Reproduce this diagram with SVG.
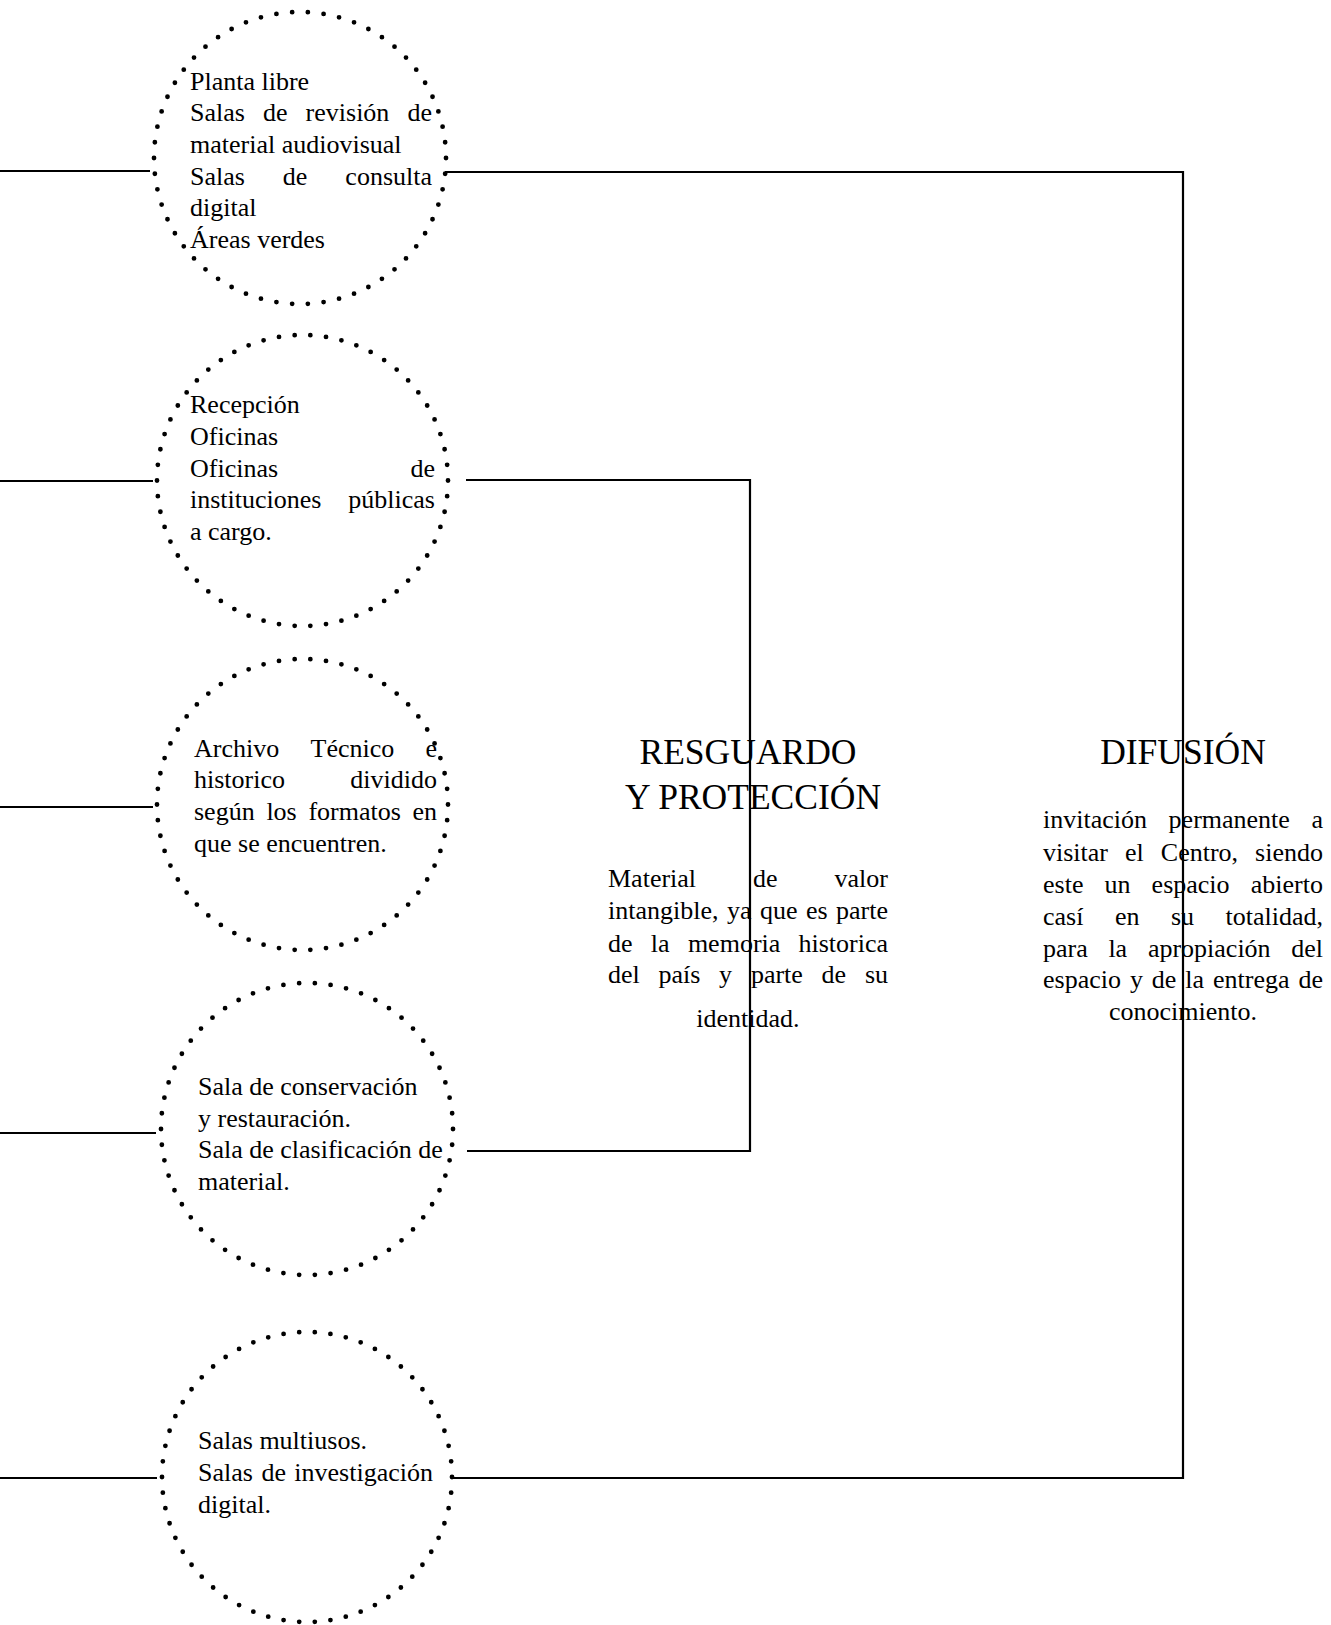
<svg xmlns="http://www.w3.org/2000/svg" width="1331" height="1625" viewBox="0 0 1331 1625">
<style>
.dot{fill:none;stroke:#000;stroke-width:4.8;stroke-linecap:round;stroke-dasharray:0 1}
.t{font-family:"Liberation Serif","Times New Roman",serif;font-size:26px;fill:#000}
.h{font-family:"Liberation Serif","Times New Roman",serif;font-size:35.5px;fill:#000;text-anchor:middle}
.e{text-anchor:end}
.m{text-anchor:middle}
.conn{fill:none;stroke:#000;stroke-width:2.2}
</style>
<rect width="1331" height="1625" fill="#fff"/>
<g id="connectors">
<line class="conn" x1="0" y1="171" x2="150" y2="171"/>
<line class="conn" x1="0" y1="481" x2="153" y2="481"/>
<line class="conn" x1="0" y1="807" x2="153" y2="807"/>
<line class="conn" x1="0" y1="1133" x2="156" y2="1133"/>
<line class="conn" x1="0" y1="1478" x2="157" y2="1478"/>
<polyline class="conn" points="445,172 1183,172 1183,1478 452,1478"/>
<polyline class="conn" points="466,480 750,480 750,1151 467,1151"/>
</g>
<g id="node1">
<circle class="dot" cx="300" cy="158" r="146" pathLength="58"/>
<text class="t" x="190" y="90">Planta libre</text>
<text class="t" y="121"><tspan x="190">Salas</tspan><tspan x="263">de</tspan><tspan x="305.6">revisión</tspan><tspan class="e" x="432">de</tspan></text>
<text class="t" x="190" y="153">material audiovisual</text>
<text class="t" y="185"><tspan x="190">Salas</tspan><tspan x="282.8">de</tspan><tspan class="e" x="432">consulta</tspan></text>
<text class="t" x="190" y="216">digital</text>
<text class="t" x="190" y="248">Áreas verdes</text>
</g>
<g id="node2">
<circle class="dot" cx="302.5" cy="480.5" r="145.5" pathLength="58"/>
<text class="t" x="190" y="413">Recepción</text>
<text class="t" x="190" y="445">Oficinas</text>
<text class="t" y="477"><tspan x="190">Oficinas</tspan><tspan class="e" x="435">de</tspan></text>
<text class="t" y="508"><tspan x="190">instituciones</tspan><tspan class="e" x="435">públicas</tspan></text>
<text class="t" x="190" y="540">a cargo.</text>
</g>
<g id="node3">
<circle class="dot" cx="302.5" cy="804.5" r="145.5" pathLength="58"/>
<text class="t" y="757"><tspan x="194">Archivo</tspan><tspan x="310.5">Técnico</tspan><tspan class="e" x="437">e</tspan></text>
<text class="t" y="788"><tspan x="194">historico</tspan><tspan class="e" x="437">dividido</tspan></text>
<text class="t" y="820"><tspan x="194">según</tspan><tspan x="266.4">los</tspan><tspan x="308.4">formatos</tspan><tspan class="e" x="437">en</tspan></text>
<text class="t" x="194" y="852">que se encuentren.</text>
</g>
<g id="node4">
<circle class="dot" cx="307" cy="1129" r="146" pathLength="58"/>
<text class="t" x="198" y="1095">Sala de conservación</text>
<text class="t" x="198" y="1127">y restauración.</text>
<text class="t" x="198" y="1158">Sala de clasificación de</text>
<text class="t" x="198" y="1190">material.</text>
</g>
<g id="node5">
<circle class="dot" cx="307" cy="1477" r="145" pathLength="58"/>
<text class="t" x="198" y="1449">Salas multiusos.</text>
<text class="t" y="1481"><tspan x="198">Salas</tspan><tspan x="261.4">de</tspan><tspan class="e" x="433">investigación</tspan></text>
<text class="t" x="198" y="1513">digital.</text>
</g>
<g id="resguardo">
<text class="h" x="748" y="764">RESGUARDO</text>
<text class="h" x="753" y="809">Y PROTECCIÓN</text>
<text class="t" y="887"><tspan x="608">Material</tspan><tspan x="753.1">de</tspan><tspan class="e" x="888">valor</tspan></text>
<text class="t" y="919"><tspan x="608">intangible,</tspan><tspan x="727">ya</tspan><tspan x="760">que</tspan><tspan x="806">es</tspan><tspan class="e" x="888">parte</tspan></text>
<text class="t" y="952"><tspan x="608">de</tspan><tspan x="650.8">la</tspan><tspan x="687.9">memoria</tspan><tspan class="e" x="888">historica</tspan></text>
<text class="t" y="983"><tspan x="608">del</tspan><tspan x="658.5">país</tspan><tspan x="719.1">y</tspan><tspan x="750.9">parte</tspan><tspan x="821.6">de</tspan><tspan class="e" x="888">su</tspan></text>
<text class="t m" x="748" y="1027">identidad.</text>
</g>
<g id="difusion">
<text class="h" x="1183" y="764">DIFUSIÓN</text>
<text class="t" y="828"><tspan x="1043">invitación</tspan><tspan x="1168.6">permanente</tspan><tspan class="e" x="1323">a</tspan></text>
<text class="t" y="861"><tspan x="1043">visitar</tspan><tspan x="1125">el</tspan><tspan x="1160.8">Centro,</tspan><tspan class="e" x="1323">siendo</tspan></text>
<text class="t" y="893"><tspan x="1043">este</tspan><tspan x="1104.5">un</tspan><tspan x="1151.6">espacio</tspan><tspan class="e" x="1323">abierto</tspan></text>
<text class="t" y="925"><tspan x="1043">casí</tspan><tspan x="1114.9">en</tspan><tspan x="1170.9">su</tspan><tspan class="e" x="1323">totalidad,</tspan></text>
<text class="t" y="957"><tspan x="1043">para</tspan><tspan x="1108.4">la</tspan><tspan x="1147.9">apropiación</tspan><tspan class="e" x="1323">del</tspan></text>
<text class="t" y="988"><tspan x="1043">espacio</tspan><tspan x="1129.9">y</tspan><tspan x="1151.8">de</tspan><tspan x="1185.3">la</tspan><tspan x="1213">entrega</tspan><tspan class="e" x="1323">de</tspan></text>
<text class="t m" x="1183" y="1020">conocimiento.</text>
</g>
</svg>
